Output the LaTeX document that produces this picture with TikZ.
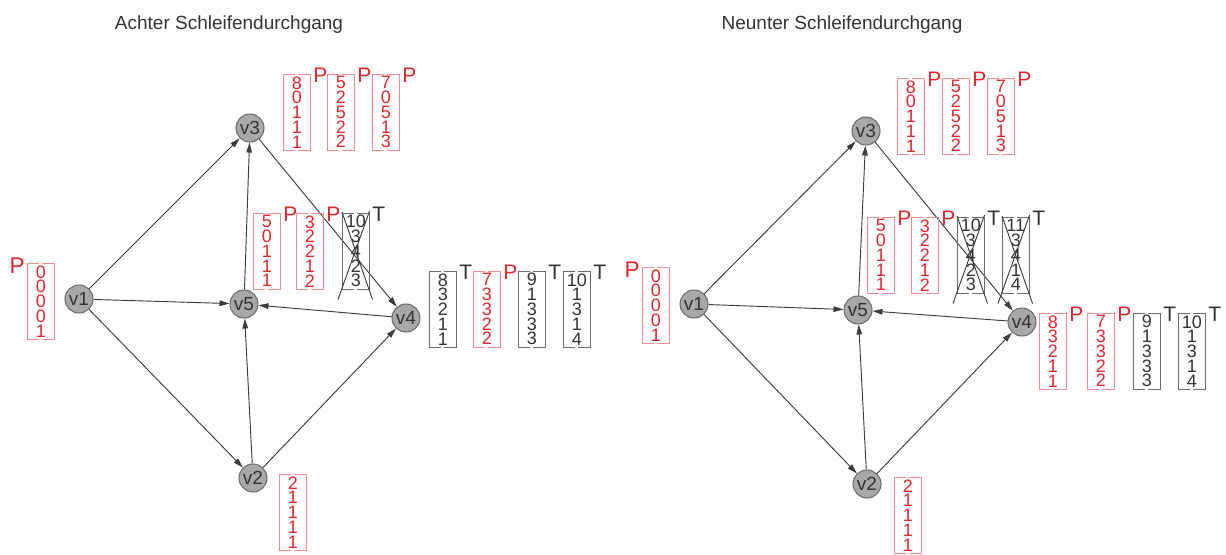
\documentclass[tikz,border=0pt]{standalone}
\usepackage{fontspec}
\setmainfont{Liberation Sans}
\usetikzlibrary{arrows.meta,calc}

\definecolor{pred}{HTML}{E3262C}
\definecolor{pframecol}{HTML}{F28C8E}
\definecolor{tframecol}{HTML}{6A6A6A}
\definecolor{ink}{HTML}{333333}
\definecolor{edgecol}{HTML}{3C3C3C}
\definecolor{vfill}{HTML}{A8A8A8}
\definecolor{vdraw}{HTML}{6E6E6E}

\tikzset{
  vertex/.style={circle, fill=vfill, draw=vdraw, line width=0.8pt,
    minimum size=21pt, inner sep=0pt, text=ink,
    font=\fontsize{14.25pt}{14.25pt}\selectfont},
  edge/.style={draw=edgecol, line width=0.7pt,
    -{Triangle[length=7.5pt,width=4.2pt]}},
  stack/.style={inner sep=0pt, minimum width=20.25pt, minimum height=57pt,
    align=center, font=\fontsize{13.5pt}{11.06pt}\selectfont},
  pstack/.style={stack, text=pred},
  tstack/.style={stack, text=ink},
  pframe/.style={draw=pframecol, line width=0.7pt},
  tframe/.style={draw=tframecol, line width=0.7pt},
  xline/.style={draw=edgecol, line width=0.7pt},
  tag/.style={inner sep=0pt, font=\fontsize{15.75pt}{15.75pt}\selectfont},
  ptag/.style={tag, text=pred},
  ttag/.style={tag, text=ink},
  heading/.style={inner sep=0pt, text=ink,
    font=\fontsize{14.25pt}{14.25pt}\selectfont},
}

% column of numbers framed by two brackets: name, left x, top y, kind (p/t), entries
\newcommand\stackcol[5]{%
  \node[#4stack, anchor=north west] (#1) at (#2,#3) {#5};
  \draw[#4frame] ($(#1.north)+(-1.5,0)$) -| (#1.south west) -- ($(#1.south)+(-1.5,0)$);
  \draw[#4frame] ($(#1.north)+(1.5,0)$) -| (#1.south east) -- ($(#1.south)+(1.5,0)$);
}
% letter at the upper right corner of a column
\newcommand\stacktag[3]{%
  \node[#2tag, anchor=base west] (#1tag) at ($(#1.north east)+(2.5,8)$) {#3};
}
% strike a column through with a cross
\newcommand\strikecol[1]{%
  \draw[xline] ($(#1.north west)+(0,-1)$) -- ($(#1.south east)+(3,10)$);
  \draw[xline] ($(#1.north east)+(0,-2)$) -- ($(#1.south west)+(-4,10)$);
}

\begin{document}
\begin{tikzpicture}[x=0.75pt, y=-0.75pt]
\useasboundingbox (0,0) rectangle (1226,554);

% ---------------- eighth pass ----------------
\node[heading, anchor=base] (h1) at (229,29) {Achter Schleifendurchgang};

\node[vertex] (v1) at (79,299) {v1};
\node[vertex] (v2) at (253,478) {v2};
\node[vertex] (v3) at (250,128) {v3};
\node[vertex] (v4) at (406,318) {v4};
\node[vertex] (v5) at (244,304) {v5};

\draw[edge] (v1) -- (v3);
\draw[edge] (v1) -- (v5);
\draw[edge] (v1) -- (v2);
\draw[edge] (v2) -- (v5);
\draw[edge] (v2) -- (v4);
\draw[edge] (v5) -- (v3);
\draw[edge] (v3) -- (v4);
\draw[edge] (v4) -- (v5);

\stackcol{a0}{27}{263}{p}{0\\0\\0\\0\\1}
\node[ptag, anchor=base east, font=\fontsize{17pt}{17pt}\selectfont] (a0tag)
  at ($(a0.north west)+(-2,10)$) {P};

\stackcol{a31}{283}{74}{p}{8\\0\\1\\1\\1}  \stacktag{a31}{p}{P}
\stackcol{a32}{327}{74}{p}{5\\2\\5\\2\\2}  \stacktag{a32}{p}{P}
\stackcol{a33}{372}{74}{p}{7\\0\\5\\1\\3}  \stacktag{a33}{p}{P}

\stackcol{a51}{253}{213}{p}{5\\0\\1\\1\\1} \stacktag{a51}{p}{P}
\stackcol{a52}{296}{213}{p}{3\\2\\2\\1\\2} \stacktag{a52}{p}{P}
\stackcol{a53}{342}{213}{t}{10\\3\\4\\2\\3} \stacktag{a53}{t}{T}
\strikecol{a53}

\stackcol{a41}{429}{271}{t}{8\\3\\2\\1\\1} \stacktag{a41}{t}{T}
\stackcol{a42}{473}{271}{p}{7\\3\\3\\2\\2} \stacktag{a42}{p}{P}
\stackcol{a43}{518}{271}{t}{9\\1\\3\\3\\3} \stacktag{a43}{t}{T}
\stackcol{a44}{563}{271}{t}{10\\1\\3\\1\\4} \stacktag{a44}{t}{T}

\stackcol{a21}{279}{474}{p}{2\\1\\1\\1\\1}

% ---------------- ninth pass ----------------
\node[heading, anchor=base] (h2) at (842,29) {Neunter Schleifendurchgang};

\node[vertex] (w1) at (694,304) {v1};
\node[vertex] (w2) at (867,484) {v2};
\node[vertex] (w3) at (866,131) {v3};
\node[vertex] (w4) at (1022,322) {v4};
\node[vertex] (w5) at (858,310) {v5};

\draw[edge] (w1) -- (w3);
\draw[edge] (w1) -- (w5);
\draw[edge] (w1) -- (w2);
\draw[edge] (w2) -- (w5);
\draw[edge] (w2) -- (w4);
\draw[edge] (w5) -- (w3);
\draw[edge] (w3) -- (w4);
\draw[edge] (w4) -- (w5);

\stackcol{b0}{642}{267}{p}{0\\0\\0\\0\\1}
\node[ptag, anchor=base east, font=\fontsize{17pt}{17pt}\selectfont] (b0tag)
  at ($(b0.north west)+(-2,10)$) {P};

\stackcol{b31}{897}{78}{p}{8\\0\\1\\1\\1}  \stacktag{b31}{p}{P}
\stackcol{b32}{942}{78}{p}{5\\2\\5\\2\\2}  \stacktag{b32}{p}{P}
\stackcol{b33}{987}{78}{p}{7\\0\\5\\1\\3}  \stacktag{b33}{p}{P}

\stackcol{b51}{867}{217}{p}{5\\0\\1\\1\\1} \stacktag{b51}{p}{P}
\stackcol{b52}{911}{217}{p}{3\\2\\2\\1\\2} \stacktag{b52}{p}{P}
\stackcol{b53}{957}{217}{t}{10\\3\\4\\2\\3} \stacktag{b53}{t}{T}
\strikecol{b53}
\stackcol{b54}{1002}{217}{t}{11\\3\\4\\1\\4} \stacktag{b54}{t}{T}
\strikecol{b54}

\stackcol{b41}{1039}{313}{p}{8\\3\\2\\1\\1} \stacktag{b41}{p}{P}
\stackcol{b42}{1087}{313}{p}{7\\3\\3\\2\\2} \stacktag{b42}{p}{P}
\stackcol{b43}{1133}{313}{t}{9\\1\\3\\3\\3} \stacktag{b43}{t}{T}
\stackcol{b44}{1178}{313}{t}{10\\1\\3\\1\\4} \stacktag{b44}{t}{T}

\stackcol{b21}{894}{477}{p}{2\\1\\1\\1\\1}
\end{tikzpicture}
\end{document}
